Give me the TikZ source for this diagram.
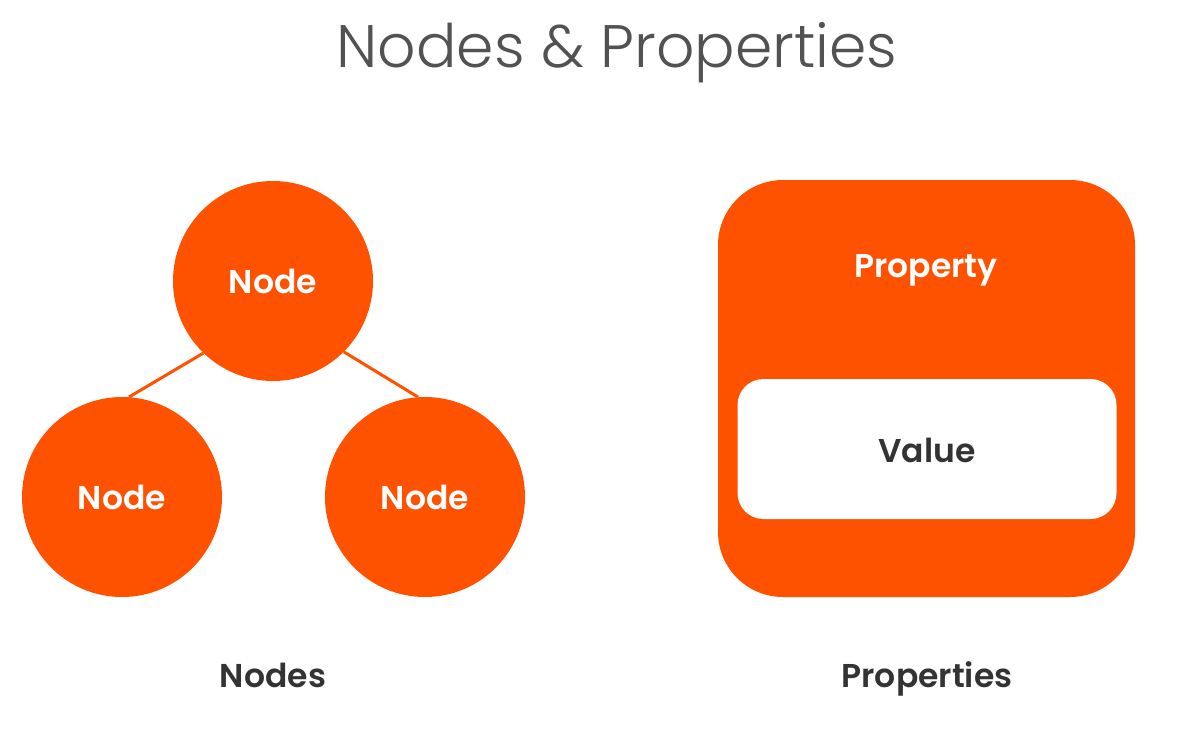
\documentclass[tikz,border=0pt]{standalone}
\usepackage{fontspec}
\setmainfont{Poppins}[BoldFont={Poppins SemiBold}]
\newfontfamily\titlefont{Poppins Light}
\usetikzlibrary{positioning}
\definecolor{brandorange}{HTML}{FF5200}
\definecolor{darktext}{HTML}{333333}

\begin{document}
\begin{tikzpicture}[x=1pt,y=-1pt,
  circ/.style={circle, fill=brandorange, minimum size=200pt, inner sep=0pt,
    text=white, font=\fontsize{33}{36}\selectfont\bfseries},
  label/.style={text=darktext, anchor=base, font=\fontsize{33}{36}\selectfont\bfseries},
  link/.style={brandorange, line width=3pt}]
  \useasboundingbox (0,0) rectangle (1179,740);

  % Title
  \node[text=darktext!85, anchor=base, font=\titlefont\fontsize{60}{66}\selectfont] (title) at (617,67) {Nodes \& Properties};

  % Nodes
  \node[circ] (top) at (273,281) {Node};
  \node[circ] (left) at (122,497) {Node};
  \node[circ] (right) at (425,497) {Node};
  \draw[link] (top.226) -- (left.86);
  \draw[link] (top.315) -- (right.94);
  \node[label] (nodes) at (273,687) {Nodes};

  % Property and value
  \node[fill=brandorange, rounded corners=65pt, minimum width=417pt, minimum height=417pt] (prop) at (926.5,388.5) {};
  \node[label, text=white] (propname) at (926,277) {Property};
  \node[fill=white, rounded corners=26pt, minimum width=379pt, minimum height=140pt] (value) at (927,449) {};
  \node[label] (valname) at (927,462) {Value};
  \node[label] (props) at (927,687) {Properties};

\end{tikzpicture}
\end{document}
